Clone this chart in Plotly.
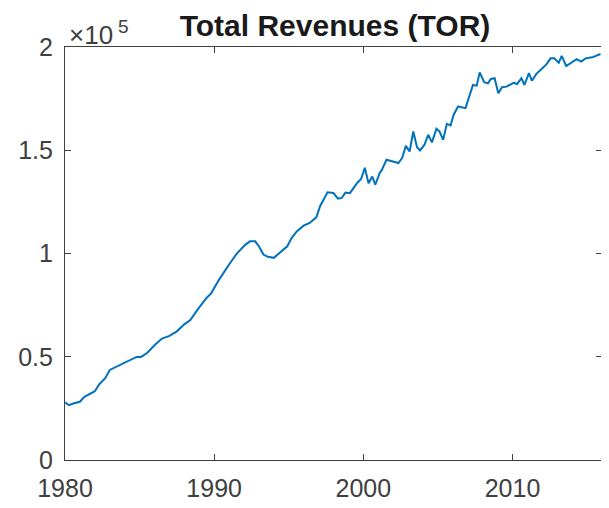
import plotly.graph_objects as go

# quarterly-ish readings of total revenues (thousands)
years = [
    1980.0, 1980.25, 1980.6, 1981.0, 1981.3, 1982.0, 1982.3, 1982.7, 1983.0, 1983.5,
    1984.3, 1984.8, 1985.1, 1985.5, 1986.0, 1986.5, 1987.0, 1987.5, 1988.0, 1988.4,
    1988.9, 1989.5, 1989.8, 1990.3, 1991.0, 1991.5, 1992.1, 1992.4, 1992.75, 1993.0,
    1993.3, 1993.6, 1994.0, 1994.4, 1994.9, 1995.2, 1995.55, 1996.0, 1996.4, 1996.85,
    1997.1, 1997.6, 1998.0, 1998.3, 1998.55, 1998.8, 1999.1, 1999.6, 1999.85, 2000.1,
    2000.35, 2000.6, 2000.8, 2001.1, 2001.25, 2001.55, 2002.0, 2002.35, 2002.6, 2002.85,
    2003.1, 2003.35, 2003.6, 2003.8, 2004.1, 2004.35, 2004.6, 2004.9, 2005.1, 2005.35,
    2005.6, 2005.85, 2006.05, 2006.35, 2006.85, 2007.05, 2007.35, 2007.6, 2007.8, 2008.1,
    2008.35, 2008.55, 2008.8, 2009.05, 2009.3, 2009.6, 2010.1, 2010.3, 2010.6, 2010.8,
    2011.1, 2011.3, 2011.6, 2012.0, 2012.3, 2012.55, 2012.8, 2013.1, 2013.3, 2013.6,
    2013.9, 2014.3, 2014.6, 2014.9, 2015.35, 2015.9,
]
revenues_k = [
    27.9, 26.6, 27.5, 28.2, 30.6, 33.3, 36.7, 39.6, 43.6, 45.3,
    48.2, 49.9, 49.9, 51.8, 55.6, 58.8, 60.1, 62.3, 65.7, 67.8,
    72.9, 78.6, 80.7, 87.0, 94.7, 99.8, 104.3, 105.9, 105.9, 103.5,
    99.5, 98.4, 97.9, 100.3, 103.5, 107.6, 110.8, 113.5, 114.8, 117.5,
    122.9, 129.6, 129.3, 126.6, 126.9, 129.5, 129.2, 134.3, 136.1, 141.5,
    134.0, 137.3, 133.3, 139.0, 140.6, 145.4, 144.6, 143.8, 146.2, 152.2,
    149.4, 159.1, 151.5, 149.9, 152.7, 157.5, 153.8, 160.4, 159.1, 155.1,
    162.8, 162.0, 167.1, 171.2, 170.4, 174.7, 181.6, 181.3, 187.7, 183.0,
    182.4, 184.5, 184.9, 177.6, 180.5, 180.8, 182.8, 182.0, 184.9, 181.6,
    187.3, 183.7, 187.0, 189.7, 191.8, 194.5, 194.5, 192.4, 195.7, 190.8,
    192.4, 194.1, 192.9, 194.5, 195.0, 196.6,
]
revenues = [v * 1000 for v in revenues_k]

x_ticks = [1980, 1990, 2000, 2010]
y_ticks = [0, 50000, 100000, 150000, 200000]
y_tick_labels = ["0", "0.5", "1", "1.5", "2"]

axis_color = "#404040"
font = "Liberation Sans, Arial, sans-serif"

fig = go.Figure(go.Scatter(
    x=years, y=revenues,
    mode="lines",
    line=dict(color="#0072BD", width=2),
    hoverinfo="x+y",
))

axis_common = dict(
    showgrid=False, zeroline=False,
    showline=True, linecolor=axis_color, linewidth=1.2,
    mirror="ticks", ticks="inside", ticklen=6, tickwidth=1.2, tickcolor=axis_color,
    tickfont=dict(family=font, size=25, color=axis_color),
)

# the page body adds an 8px margin, so the figure is 8px smaller and margins shifted
fig.update_layout(
    width=601, height=500,
    margin=dict(l=57, r=7, t=39, b=48, autoexpand=False),
    plot_bgcolor="white", paper_bgcolor="white",
    showlegend=False,
    title=dict(
        text="<b>Total Revenues (TOR)</b>",
        x=327 / 601, xanchor="center", y=1 - 17 / 500, yanchor="middle",
        font=dict(family=font, size=30, color="#1a1a1a"),
    ),
    xaxis=dict(range=[1980, 2016], tickvals=x_ticks, ticklabelstandoff=6, **axis_common),
    yaxis=dict(range=[0, 200000], tickvals=y_ticks, ticktext=y_tick_labels,
               ticklabelstandoff=6, **axis_common),
    annotations=[
        dict(text="×10", xref="paper", yref="paper", x=0, y=1,
             xanchor="left", yanchor="bottom", xshift=2, yshift=-5,
             showarrow=False, font=dict(family=font, size=26, color=axis_color)),
        dict(text="5", xref="paper", yref="paper", x=0, y=1,
             xanchor="left", yanchor="bottom", xshift=51, yshift=8,
             showarrow=False, font=dict(family=font, size=19, color=axis_color)),
    ],
)

fig.write_html("out.html")
